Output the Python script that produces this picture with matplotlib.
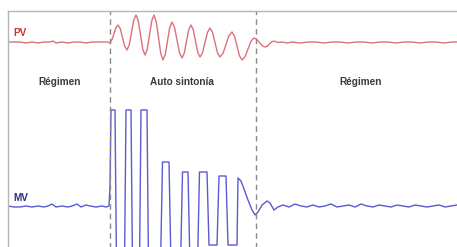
import matplotlib
matplotlib.use("Agg")
import matplotlib.pyplot as plt

# ---- data (time in samples, signal levels in display units; up = larger) ----
pv_t = [8, 14, 20, 26, 32, 38, 44, 50, 53, 56, 62, 68, 74, 80, 86, 92, 98, 104, 108, 110,
        112, 114, 116, 118, 120.25, 122.5, 124.75, 127, 129.25, 131.5, 133.75, 136,
        138.25, 140.5, 142.75, 145, 147.25, 149.5, 151.75, 154, 156.25, 158.5, 160.75, 163,
        165.25, 167.5, 169.75, 172, 174.5, 177, 179.5, 182, 184.25, 186.5, 188.75, 191,
        193.25, 195.5, 197.75, 200, 202.5, 205, 207.5, 210, 212.5, 215, 217.5, 220,
        223, 226, 229, 232, 234.5, 237, 239.5, 242, 245, 248, 251, 254, 256.75, 259.5,
        262.25, 265, 267.25, 269.5, 271.75, 274, 278, 282, 287, 292, 300, 308, 316, 324,
        332, 340, 348, 356, 364, 372, 380, 388, 396, 404, 412, 420, 428, 436, 444, 452,
        460, 470]
pv_v = [205, 205, 205, 204, 205, 204, 205, 205, 206, 204, 205, 204, 205, 205, 204, 205, 205, 205, 205, 204,
        207.5, 213.5, 219.5, 222, 218.3, 209.5, 200.7, 197, 202.1, 214.5, 226.9, 232,
        226.2, 212, 197.8, 192, 197.8, 212, 226.2, 232, 225.4, 209.5, 193.6, 187,
        192.5, 206, 219.5, 225, 219.7, 207, 194.3, 189, 193.8, 205.5, 217.2, 222,
        217.3, 206, 194.7, 190, 194.2, 204.5, 214.8, 219, 214.8, 204.5, 194.2, 190,
        193.7, 202.5, 211.3, 215, 210.9, 201, 191.1, 187, 190.2, 198, 205.8, 209, 207.7, 204.5,
        201.3, 200, 200.9, 203, 205.1, 206, 204.5, 205, 204, 205, 204, 205, 205, 204,
        205, 205, 204, 205, 205, 204, 205, 205, 204, 205, 205, 204, 205, 205, 204, 205,
        205, 205]

mv_t = [8, 14, 20, 26, 32, 38, 44, 48, 52, 56, 62, 68, 72, 77, 81, 86, 90, 96, 102, 106, 109,
        110, 111, 115, 116.5, 124.5, 126, 131, 132.5, 139.5, 141, 147, 148.5, 160.5, 162.5, 169, 171, 180.5,
        182.5, 188, 190, 197.5, 199.5, 207, 209, 217, 219, 226, 228, 237, 238, 241, 244, 248, 252,
        255, 258, 262, 267, 270, 274, 278, 283, 289, 295, 301, 307, 313, 319, 325, 331, 337,
        343, 349, 355, 361, 367, 373, 379, 385, 391, 397, 403, 409, 415, 421, 427, 433, 439,
        445, 451, 457, 465, 470]
mv_v = [41, 40, 40, 41, 40, 41, 40, 41, 43, 40, 41, 40, 41, 43, 40, 42, 41, 40, 41, 40, 41,
        60, 137, 137, -20, -20, 137, 137, -20, -20, 137, 137, -20, -20, 85, 85, -20, -20,
        75, 75, -20, -20, 75, 75, 2, 2, 71, 71, 2, 2, 69, 66, 58, 47, 37,
        32, 35, 42, 46, 44, 37, 40, 42, 40, 43, 41, 40, 42, 40, 41, 43, 40,
        41, 42, 40, 43, 41, 40, 42, 41, 40, 42, 41, 40, 42, 41, 40, 41, 42,
        40, 41, 42, 41, 41]

phase_bounds = [110, 256]
phase_labels = ["Régimen", "Auto sintonía", "Régimen"]
phase_label_x = [60, 182, 361]
signal_labels = ["PV", "MV"]

W, H = 457, 247
fig = plt.figure(figsize=(W / 100, H / 100), dpi=100)
x0, y_top, x1, y_bot = 8, 11, 470, 262
ax = fig.add_axes([x0 / W, (H - y_bot) / H, (x1 - x0) / W, (y_bot - y_top) / H])
ax.set_xlim(x0, x1)
ax.set_ylim(H - y_bot, H - y_top)
ax.set_xticks([])
ax.set_yticks([])
for s in ["right", "bottom"]:
    ax.spines[s].set_visible(False)
for s in ["top", "left"]:
    ax.spines[s].set_color("#b5b5b5")
    ax.spines[s].set_linewidth(1.0)

ax.plot(pv_t, pv_v, color="#d9737a", lw=1.0, solid_joinstyle="round")
ax.plot(mv_t, mv_v, color="#5a5ad0", lw=1.0, solid_joinstyle="round")

for b in phase_bounds:
    ax.axvline(b, color="#8a8a8a", lw=1.0, ls=(0, (4, 3)))

for lx, lab in zip(phase_label_x, phase_labels):
    ax.text(lx, 247 - 82, lab, ha="center", va="center", fontsize=7.2,
            fontweight="bold", color="#3a3a3a", family="Liberation Sans")

ax.text(13, 247 - 33, signal_labels[0], ha="left", va="center", fontsize=7.2,
        fontweight="bold", color="#cc3333", family="Liberation Sans")
ax.text(13, 247 - 198, signal_labels[1], ha="left", va="center", fontsize=7.2,
        fontweight="bold", color="#2e2e80", family="Liberation Sans")

fig.savefig("out.png", dpi=100)
